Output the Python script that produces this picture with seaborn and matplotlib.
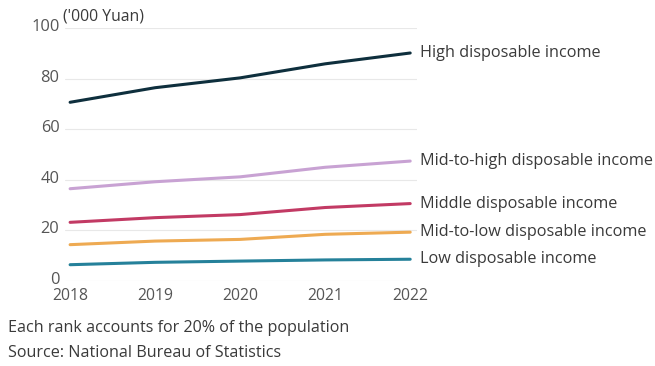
import matplotlib
matplotlib.use("Agg")
import matplotlib.pyplot as plt
import matplotlib.transforms as mtransforms
import seaborn as sns
import pandas as pd

# Per-capita disposable income by quintile ('000 Yuan)
years = [2018, 2019, 2020, 2021, 2022]
low = [6.44, 7.38, 7.87, 8.33, 8.60]
mid_low = [14.36, 15.78, 16.44, 18.45, 19.30]
middle = [23.19, 25.04, 26.25, 29.05, 30.60]
mid_high = [36.47, 39.23, 41.17, 44.95, 47.40]
high = [70.64, 76.40, 80.29, 85.84, 90.12]

series_names = [
    "High disposable income",
    "Mid-to-high disposable income",
    "Middle disposable income",
    "Mid-to-low disposable income",
    "Low disposable income",
]
series_values = [high, mid_high, middle, mid_low, low]
colors = ["#0e2f3d", "#c8a2d3", "#c23a64", "#eeaa52", "#25819a"]

df = pd.DataFrame(
    [(n, y, v) for n, vals in zip(series_names, series_values) for y, v in zip(years, vals)],
    columns=["group", "year", "value"],
)

sns.set_theme(style="white")
plt.rcParams["font.family"] = ["Open Sans", "DejaVu Sans"]

fig = plt.figure(figsize=(6.55, 3.66), dpi=100)
ax = fig.add_axes([65 / 655, 1 - 281 / 366, (417 - 65) / 655, (281 - 28) / 366])

sns.lineplot(
    data=df, x="year", y="value", hue="group", hue_order=series_names,
    palette=colors, linewidth=2.2, legend=False, ax=ax,
)

ax.set_xlim(2017.94, 2022.08)
ax.set_ylim(0, 100)
ax.set_yticks([0, 20, 40, 60, 80, 100])
ax.set_xticks(years)
ax.set_xticklabels([str(y) for y in years])
ax.set_xlabel("")
ax.set_ylabel("")
ax.grid(axis="y", color="#e8e8e8", linewidth=0.8)
ax.set_axisbelow(True)
for s in ax.spines.values():
    s.set_visible(False)
ax.tick_params(axis="y", length=0, pad=4, labelsize=11.8, labelcolor="#555555")
ax.tick_params(axis="x", length=0, pad=5, labelsize=11.3, labelcolor="#555555")

# y tick labels sit slightly above their gridlines
lift = mtransforms.ScaledTranslation(0, 3 / 100, fig.dpi_scale_trans)
for lbl in ax.get_yticklabels():
    lbl.set_transform(lbl.get_transform() + lift)

# Direct labels at the end of each line
for name, vals in zip(series_names, series_values):
    ax.annotate(name, xy=(years[-1], vals[-1]), xytext=(7, 0),
                textcoords="offset points", va="center", ha="left",
                fontsize=11.7, color="#3a3a3a", annotation_clip=False)

ax.text(-0.005, 1.015, "('000 Yuan)", transform=ax.transAxes, fontsize=11.3,
        color="#3a3a3a", ha="left", va="bottom")

fig.text(8 / 655, 1 - 328 / 366, "Each rank accounts for 20% of the population",
         fontsize=11.6, color="#3a3a3a", ha="left", va="center")
fig.text(8 / 655, 1 - 353 / 366, "Source: National Bureau of Statistics",
         fontsize=11.6, color="#3a3a3a", ha="left", va="center")

fig.savefig("out.png", dpi=100, facecolor="white")
